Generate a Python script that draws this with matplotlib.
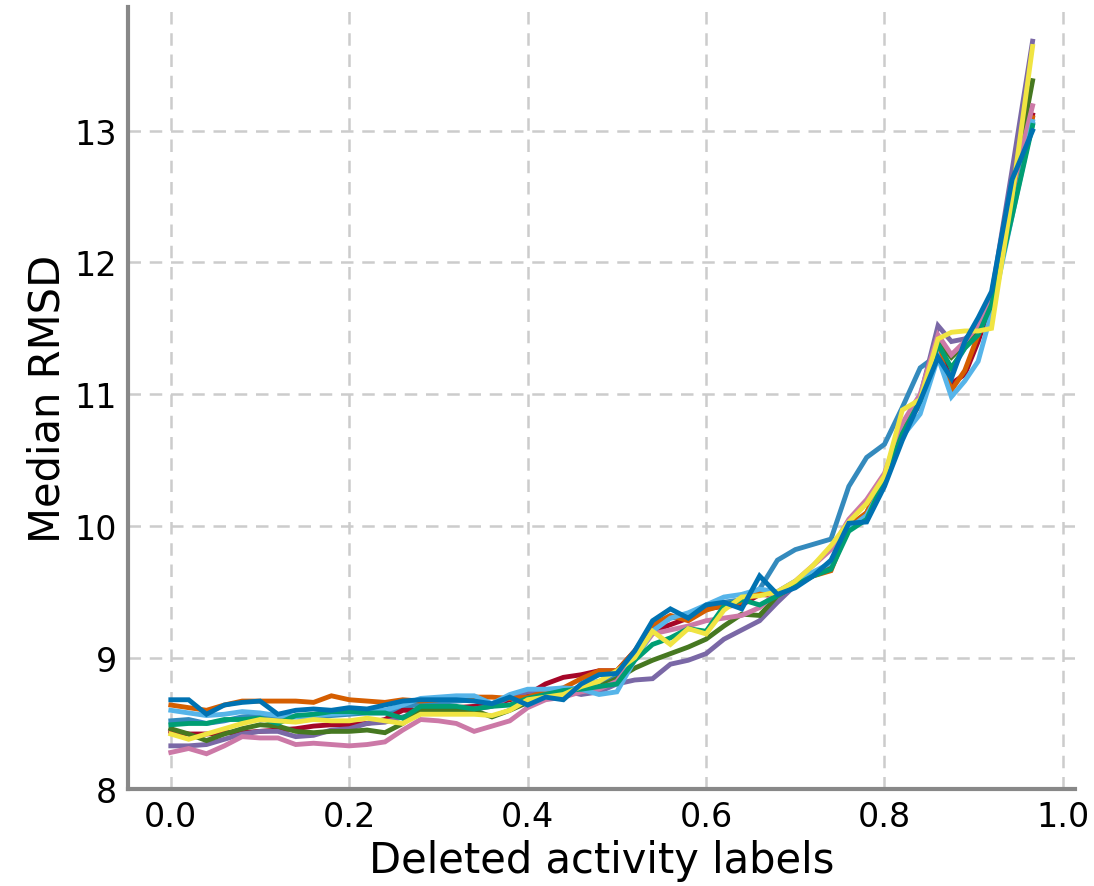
import matplotlib
matplotlib.use("Agg")
import matplotlib.pyplot as plt

# Fraction of deleted activity labels
deleted = [0.00, 0.02, 0.04, 0.06, 0.08, 0.10, 0.12, 0.14, 0.16, 0.18,
           0.20, 0.22, 0.24, 0.26, 0.28, 0.30, 0.32, 0.34, 0.36, 0.38,
           0.40, 0.42, 0.44, 0.46, 0.48, 0.50, 0.52, 0.54, 0.56, 0.58,
           0.60, 0.62, 0.64, 0.66, 0.68, 0.70, 0.72, 0.74, 0.76, 0.78,
           0.80, 0.82, 0.84, 0.86, 0.875, 0.89, 0.905, 0.92, 0.943, 0.966]

# Median RMSD per run
run_01 = [8.52, 8.53, 8.50, 8.52, 8.55, 8.56, 8.54, 8.55, 8.54, 8.56,
          8.57, 8.58, 8.58, 8.62, 8.65, 8.66, 8.67, 8.68, 8.64, 8.69,
          8.70, 8.72, 8.74, 8.78, 8.82, 8.86, 9.02, 9.22, 9.30, 9.32,
          9.38, 9.42, 9.44, 9.52, 9.74, 9.82, 9.86, 9.90, 10.30, 10.52,
          10.62, 10.90, 11.20, 11.30, 11.18, 11.35, 11.50, 11.70, 12.40, 13.05]
run_02 = [8.44, 8.42, 8.42, 8.43, 8.43, 8.44, 8.45, 8.46, 8.48, 8.49,
          8.49, 8.50, 8.53, 8.60, 8.60, 8.61, 8.62, 8.63, 8.65, 8.68,
          8.72, 8.80, 8.85, 8.87, 8.90, 8.90, 9.05, 9.20, 9.25, 9.30,
          9.37, 9.39, 9.40, 9.48, 9.47, 9.56, 9.63, 9.70, 9.98, 10.08,
          10.36, 10.72, 10.93, 11.38, 11.08, 11.15, 11.40, 11.70, 12.40, 13.12]
run_03 = [8.33, 8.33, 8.34, 8.38, 8.42, 8.44, 8.44, 8.40, 8.41, 8.45,
          8.46, 8.50, 8.51, 8.55, 8.58, 8.59, 8.60, 8.61, 8.63, 8.70,
          8.74, 8.73, 8.75, 8.72, 8.74, 8.80, 8.83, 8.84, 8.95, 8.98,
          9.03, 9.14, 9.21, 9.28, 9.42, 9.55, 9.63, 9.72, 9.98, 10.10,
          10.38, 10.75, 10.98, 11.52, 11.40, 11.42, 11.50, 11.75, 12.70, 13.68]
run_04 = [8.46, 8.42, 8.37, 8.42, 8.46, 8.49, 8.48, 8.44, 8.43, 8.44,
          8.44, 8.45, 8.43, 8.50, 8.60, 8.60, 8.60, 8.60, 8.55, 8.60,
          8.66, 8.71, 8.74, 8.75, 8.78, 8.84, 8.92, 8.98, 9.03, 9.08,
          9.14, 9.24, 9.33, 9.32, 9.47, 9.55, 9.63, 9.72, 10.00, 10.08,
          10.36, 10.70, 10.95, 11.40, 11.28, 11.38, 11.48, 11.70, 12.55, 13.38]
run_05 = [8.64, 8.62, 8.60, 8.64, 8.67, 8.67, 8.67, 8.67, 8.66, 8.71,
          8.68, 8.67, 8.66, 8.68, 8.67, 8.68, 8.69, 8.70, 8.70, 8.69,
          8.70, 8.74, 8.77, 8.84, 8.90, 8.90, 9.05, 9.25, 9.32, 9.28,
          9.36, 9.40, 9.42, 9.50, 9.47, 9.55, 9.62, 9.66, 10.00, 10.10,
          10.38, 10.75, 10.92, 11.35, 11.03, 11.18, 11.45, 11.72, 12.45, 13.10]
run_06 = [8.28, 8.31, 8.27, 8.33, 8.40, 8.39, 8.39, 8.34, 8.35, 8.34,
          8.33, 8.34, 8.36, 8.45, 8.53, 8.52, 8.50, 8.44, 8.48, 8.52,
          8.62, 8.68, 8.70, 8.74, 8.76, 8.82, 9.00, 9.18, 9.21, 9.24,
          9.28, 9.30, 9.32, 9.38, 9.50, 9.58, 9.70, 9.82, 10.05, 10.20,
          10.40, 10.78, 11.00, 11.45, 11.30, 11.40, 11.52, 11.75, 12.55, 13.19]
run_07 = [8.60, 8.58, 8.56, 8.57, 8.59, 8.58, 8.56, 8.55, 8.56, 8.57,
          8.58, 8.59, 8.60, 8.64, 8.69, 8.70, 8.71, 8.71, 8.65, 8.72,
          8.76, 8.76, 8.77, 8.76, 8.72, 8.74, 8.98, 9.20, 9.30, 9.34,
          9.40, 9.46, 9.48, 9.52, 9.50, 9.58, 9.65, 9.72, 9.98, 10.08,
          10.33, 10.68, 10.85, 11.28, 10.98, 11.10, 11.25, 11.62, 12.35, 13.07]
run_08 = [8.49, 8.50, 8.50, 8.53, 8.53, 8.54, 8.50, 8.56, 8.57, 8.59,
          8.59, 8.58, 8.58, 8.54, 8.63, 8.63, 8.63, 8.61, 8.63, 8.64,
          8.69, 8.72, 8.75, 8.76, 8.78, 8.80, 8.98, 9.10, 9.15, 9.22,
          9.20, 9.39, 9.44, 9.40, 9.47, 9.55, 9.62, 9.67, 9.96, 10.05,
          10.35, 10.70, 10.95, 11.38, 11.20, 11.35, 11.45, 11.68, 12.35, 13.04]
run_09 = [8.42, 8.38, 8.42, 8.46, 8.50, 8.53, 8.52, 8.51, 8.53, 8.52,
          8.52, 8.54, 8.52, 8.50, 8.57, 8.57, 8.57, 8.57, 8.56, 8.60,
          8.68, 8.70, 8.72, 8.78, 8.82, 8.90, 9.00, 9.20, 9.10, 9.22,
          9.18, 9.36, 9.46, 9.47, 9.50, 9.58, 9.70, 9.85, 10.03, 10.17,
          10.38, 10.88, 10.96, 11.42, 11.47, 11.48, 11.48, 11.50, 12.50, 13.64]
run_10 = [8.68, 8.68, 8.57, 8.64, 8.66, 8.67, 8.57, 8.60, 8.61, 8.60,
          8.62, 8.61, 8.64, 8.67, 8.68, 8.68, 8.68, 8.67, 8.65, 8.70,
          8.64, 8.70, 8.68, 8.80, 8.87, 8.88, 9.05, 9.28, 9.37, 9.30,
          9.40, 9.42, 9.37, 9.62, 9.48, 9.53, 9.62, 9.74, 10.02, 10.03,
          10.30, 10.65, 10.95, 11.28, 11.12, 11.40, 11.58, 11.78, 12.63, 13.00]

runs = [run_01, run_02, run_03, run_04, run_05,
        run_06, run_07, run_08, run_09, run_10]
colors = ['#348ABD', '#A60628', '#7A68A6', '#467821', '#D55E00',
          '#CC79A7', '#56B4E9', '#009E73', '#F0E442', '#0072B2']

fig = plt.figure(figsize=(10.94, 8.87), dpi=100)
ax = fig.add_axes([0.117, 0.109, 0.866, 0.882])

for values, color in zip(runs, colors):
    ax.plot(deleted, values, color=color, linewidth=3.5, solid_joinstyle='miter')

ax.set_xlim(-0.048, 1.014)
ax.set_ylim(8, 13.94)
ax.set_xticks([0.0, 0.2, 0.4, 0.6, 0.8, 1.0])
ax.set_yticks([8, 9, 10, 11, 12, 13])
ax.set_xticklabels(['0.0', '0.2', '0.4', '0.6', '0.8', '1.0'])

ax.grid(True, color='#cccccc', linestyle=(0, (5, 3.5)), linewidth=1.8)
ax.set_axisbelow(True)

for side in ('top', 'right'):
    ax.spines[side].set_visible(False)
for side in ('left', 'bottom'):
    ax.spines[side].set_color('#888888')
    ax.spines[side].set_linewidth(3.0)

ax.tick_params(axis='both', length=0, pad=8, labelsize=24, colors='black')
ax.set_xlabel('Deleted activity labels', fontsize=30, labelpad=4)
ax.set_ylabel('Median RMSD', fontsize=30, labelpad=4)

fig.savefig('out.png', dpi=100)
